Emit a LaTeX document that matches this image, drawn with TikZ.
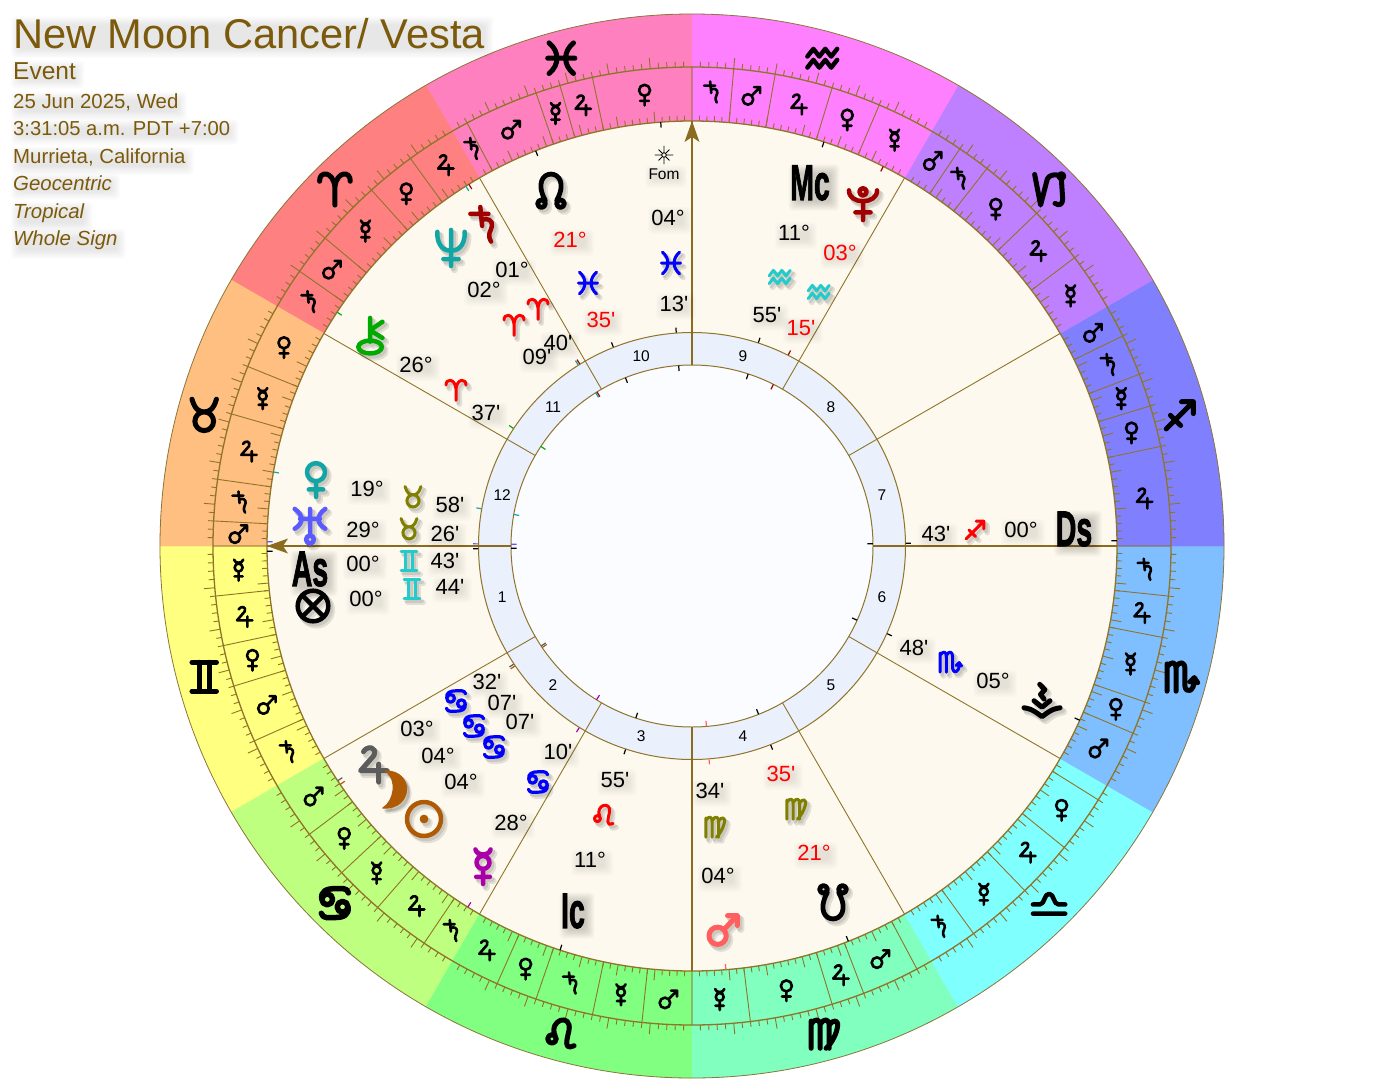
\documentclass[tikz,border=0pt]{standalone}
\usepackage{fontspec}
\usepackage{graphicx}
\newfontfamily\lib{Liberation Sans}
\newfontfamily\libb{Liberation Sans}[BoldFeatures={FakeBold=2.2}]
\pgfdeclarelayer{base}\pgfdeclarelayer{shad}\pgfsetlayers{base,shad,main}
\definecolor{lineb}{HTML}{8F7429}
\definecolor{axisb}{HTML}{8B6B1E}
\definecolor{titleb}{HTML}{7C5A0B}
\definecolor{cream}{HTML}{FDF9EE}
\definecolor{hring}{HTML}{EAF1FD}
\definecolor{core}{HTML}{FBFCFF}
\definecolor{cteal}{HTML}{12A5A5}
\definecolor{caqua}{HTML}{22CCCC}
\definecolor{cviol}{HTML}{5A5AFF}
\definecolor{cgray}{HTML}{5C5C5C}
\definecolor{cbrown}{HTML}{AF5A05}
\definecolor{cmag}{HTML}{AA00AA}
\definecolor{ccoral}{HTML}{FF5F5F}
\definecolor{cdred}{HTML}{A00000}
\definecolor{cgreen}{HTML}{00AA00}
\definecolor{colive}{HTML}{808000}
\definecolor{cblue}{HTML}{0000FF}
\definecolor{cred}{HTML}{FF0000}
\definecolor{zGe}{HTML}{FFFF80}
\definecolor{zCn}{HTML}{BFFF80}
\definecolor{zLe}{HTML}{80FF80}
\definecolor{zVi}{HTML}{80FFBF}
\definecolor{zLi}{HTML}{80FFFF}
\definecolor{zSc}{HTML}{80BFFF}
\definecolor{zSg}{HTML}{8080FF}
\definecolor{zCp}{HTML}{BF80FF}
\definecolor{zAq}{HTML}{FF80FF}
\definecolor{zPi}{HTML}{FF80BF}
\definecolor{zAr}{HTML}{FF8080}
\definecolor{zTa}{HTML}{FFBF80}
% planet paths
\def\glNo{(0,0)}
\def\glSa{(-.15,1)--(-.05,-.05) (-.7,.62)--(.3,.62) (-.08,.25) .. controls (.25,.45) and (.55,.25) .. (.5,-.05) .. controls (.45,-.35) and (.2,-.5) .. (.45,-.92)}
\def\glJu{(-.45,.7) .. controls (-.25,1.05) and (.3,.95) .. (.1,.5) -- (-.6,-.3) -- (.8,-.3) (.35,.05)--(.35,-.9)}
\def\glVe{(0,.38) circle (.5) (0,-.12)--(0,-1) (-.4,-.58)--(.4,-.58)}
\def\glMa{(-.3,-.32) circle (.48) (.05,.03)--(.8,.8) (.25,.8)--(.8,.8)--(.8,.25)}
\def\glMe{(0,.2) circle (.36) (-.42,.92) .. controls (-.35,.55) and (.35,.55) .. (.42,.92) (0,-.16)--(0,-1) (-.38,-.6)--(.38,-.6)}
\def\glUr{(-.85,.95) .. controls (-.35,.6) and (-.35,.15) .. (-.85,-.15) (.85,.95) .. controls (.35,.6) and (.35,.15) .. (.85,-.15) (0,.95)--(0,-.5) (-.55,.4)--(.55,.4) (0,-.75) circle (.22)}
\def\glNe{(-.72,.85) .. controls (-.75,.05) and (-.3,-.15) .. (0,-.15) .. controls (.3,-.15) and (.75,.05) .. (.72,.85) (0,.95)--(0,-.95) (-.4,-.58)--(.4,-.58)}
\def\glPl{(-.78,.7) .. controls (-.8,-.1) and (.8,-.1) .. (.78,.7) (0,.62) circle (.2) (0,.1)--(0,-.95) (-.42,-.52)--(.42,-.52)}
\def\glCh{(-.1,.95)--(-.1,-.3) (-.1,.3)--(.55,.75) (-.1,.3)--(.55,-.1) (-.1,-.58) ellipse (.62 and .34)}
\def\glSu{(0,0) circle (.85) (0,0) circle (.1)}
\def\glMo{(-.55,1) .. controls (.95,1.05) and (.95,-1.05) .. (-.7,-.95) .. controls (-.1,-.6) and (.1,.55) .. cycle}
\def\glNN{(-.3,-.55) .. controls (-1.3,1.3) and (1.3,1.3) .. (.3,-.55) (-.5,-.72) circle (.2) (.5,-.72) circle (.2)}
\def\glSN{(-.3,.55) .. controls (-1.3,-1.3) and (1.3,-1.3) .. (.3,.55) (-.5,.72) circle (.2) (.5,.72) circle (.2)}
\def\glPF{(0,0) circle (.85) (-.55,.55)--(.55,-.55) (-.55,-.55)--(.55,.55)}
\def\glVs{(-.12,.98) -- (.15,.7) -- (-.08,.45) -- (.1,.22) (-.42,.12)--(0,-.22)--(.42,.12) (-.95,-.25) .. controls (-.75,-.3) and (-.6,-.25) .. (0,-.72) .. controls (.6,-.25) and (.75,-.3) .. (.95,-.25)}
\def\glSt{(0,-.3)--(0,-1) (0,.3)--(0,1) (-.3,0)--(-1,0) (.3,0)--(1,0) (-.25,.25)--(-.6,.6) (.25,.25)--(.6,.6) (-.25,-.25)--(-.6,-.6) (.25,-.25)--(.6,-.6) (0,0) circle (.25)}
% sign paths
\def\glAr{(-.9,.45) .. controls (-.95,1.05) and (-.1,1.1) .. (0,.1) -- (0,-.95) (.9,.45) .. controls (.95,1.05) and (.1,1.1) .. (0,.1)}
\def\glTa{(0,-.35) circle (.55) (-.72,.95) .. controls (-.55,.35) and (-.3,.2) .. (0,.2) .. controls (.3,.2) and (.55,.35) .. (.72,.95)}
\def\glGe{(-.72,.85)--(.72,.85) (-.72,-.85)--(.72,-.85) (-.3,.85)--(-.3,-.85) (.3,.85)--(.3,-.85)}
\def\glCn{(-.45,.22) circle (.32) (-.77,.22) .. controls (-.85,.7) and (-.5,.85) .. (0,.85) -- (.5,.85) .. controls (.65,.85) and (.75,.75) .. (.8,.6) (.45,-.22) circle (.32) (.77,-.22) .. controls (.85,-.7) and (.5,-.85) .. (0,-.85) -- (-.5,-.85) .. controls (-.65,-.85) and (-.75,-.75) .. (-.8,-.6)}
\def\glLe{(-.55,-.3) circle (.25) (-.35,-.15) .. controls (-.8,.85) and (.65,1.25) .. (.45,.2) .. controls (.35,-.3) and (.1,-1) .. (.75,-.7)}
\def\glVi{(-.68,.75)--(-.68,-.85) (-.68,.55) .. controls (-.45,.95) and (-.15,.9) .. (-.15,.45) -- (-.15,-.85) (-.15,.55) .. controls (.1,.95) and (.38,.9) .. (.38,.45) -- (.38,-.85) (.38,.5) .. controls (.6,.85) and (1,.9) .. (.85,.3) .. controls (.75,-.15) and (.45,-.65) .. (.2,-.85)}
\def\glLi{(-.95,-.62)--(.95,-.62) (-.95,-.08)--(-.55,-.08) .. controls (-.25,-.08) and (-.3,.55) .. (0,.55) .. controls (.3,.55) and (.25,-.08) .. (.55,-.08) -- (.95,-.08)}
\def\glSc{(-.75,.75)--(-.75,-.85) (-.75,.55) .. controls (-.5,.95) and (-.22,.9) .. (-.22,.45) -- (-.22,-.85) (-.22,.55) .. controls (0,.95) and (.3,.9) .. (.3,.45) -- (.3,-.55) .. controls (.35,-1) and (.85,-.9) .. (.85,-.2) (.6,-.3)--(.85,-.05)--(1.05,-.35)}
\def\glSg{(-.8,-.8)--(.8,.8) (.1,.8)--(.8,.8)--(.8,.1) (-.55,.0)--(.05,-.6)}
\def\glCp{(-.85,.85)--(-.5,-.95)--(-.1,.6) .. controls (0,.8) and (.35,.9) .. (.58,.78) (.72,.75) circle (.14) (.72,.6) -- (.8,-.6) .. controls (.8,-.95) and (.55,-1) .. (.35,-.85)}
\def\glAq{(-.9,.1)--(-.55,.55)--(-.2,.1)--(.15,.55)--(.5,.1)--(.85,.55) (-.9,-.55)--(-.55,-.1)--(-.2,-.55)--(.15,-.1)--(.5,-.55)--(.85,-.1)}
\def\glPi{(-.72,.9) .. controls (-.1,.4) and (-.1,-.4) .. (-.72,-.9) (.72,.9) .. controls (.1,.4) and (.1,-.4) .. (.72,-.9) (-.8,0)--(.8,0)}
\newcounter{lab}
% glyph without shadow: [extra]{pos}{size}{lw}{colour}{path}
\newcommand\gly[6][]{\begin{scope}[shift={#2},x=#3pt,y=#3pt]\draw[color=#5,line width=#4pt,line cap=round,line join=round,#1] #6;\end{scope}}
\newcommand\glys[6][]{%
\begin{scope}[shift={#2},xshift=2pt,yshift=-2.5pt,x=#3pt,y=#3pt]\draw[color=black,opacity=.1,line width=#4pt+1pt,line cap=round,line join=round,#1] #6;\end{scope}%
\begin{scope}[shift={#2},xshift=3.5pt,yshift=-4pt,x=#3pt,y=#3pt]\draw[color=black,opacity=.1,line width=#4pt+2pt,line cap=round,line join=round,#1] #6;\end{scope}%
\gly[#1]{#2}{#3}{#4}{#5}{#6}}
% soft shadow behind a placed node: {node}{dx}{dy}{opacity}
\newcommand\blob[4]{\begin{pgfonlayer}{shad}\foreach \gr in {-3,-1.8,-.6,.6,1.8,3,4.2,5.4}{%
\fill[black,opacity=#4,rounded corners=4pt] ([xshift=#2pt-\gr pt,yshift=-#3pt-\gr pt]#1.south west) rectangle ([xshift=#2pt+\gr pt,yshift=-#3pt+\gr pt]#1.north east);}\end{pgfonlayer}}
% text: {x}{y}{size}{colour}{text}
\newcommand\tx[5]{\stepcounter{lab}%
\node[inner sep=0,text=#4] (t\arabic{lab}) at (#1,-#2) {\lib\fontsize{#3}{#3}\selectfont #5};\blob{t\arabic{lab}}{2}{2.5}{.011}}
% header line: {y}{size}{text}
\newcommand\hd[3]{\stepcounter{lab}%
\node[inner sep=0,anchor=base west,text=titleb] (t\arabic{lab}) at (13,-#1) {\lib\fontsize{#2}{#2}\selectfont #3};\blob{t\arabic{lab}}{3}{4}{.011}}
% bold angle labels
\newcommand\angl[3]{\stepcounter{lab}%
\node[inner sep=0,text=black] (t\arabic{lab}) at (#1,-#2) {\scalebox{.57}[1]{\libb\bfseries\fontsize{50}{50}\selectfont #3}};\blob{t\arabic{lab}}{4}{4.5}{.022}}
% sign wedge
\newcommand\wedgeband[2]{\fill[#2,draw=#2,line width=.3pt] (0,0) -- (#1:532) arc (#1:#1+30:532) -- cycle;}
% terms in one sign
\newcommand\terms[2]{\xdef\cur{#1}\foreach \tlen/\tp in {#2}{%
\pgfmathsetmacro\midd{\cur+\tlen/2}\pgfmathsetmacro\nxt{\cur+\tlen}%
\ifdim\cur pt=#1pt\else\draw[lineb,line width=.9pt] (\cur:425)--(\cur:479);\fi
\gly{(\midd:454)}{11}{2.6}{black}{\tp}%
\xdef\cur{\nxt}}}
% position ticks
\newcommand\ptick[2]{\draw[#2,line width=1.2pt] (#1:419.5)--(#1:425) (#1:214)--(#1:219) (#1:175.5)--(#1:181);}
\begin{document}
\begin{tikzpicture}[x=1pt,y=1pt]
\useasboundingbox (0,0) rectangle (1384,-1092);
\begin{pgfonlayer}{base}
\fill[white] (0,0) rectangle (1384,-1092);
\begin{scope}[shift={(692,-546)}]
\wedgeband{180}{zGe}\wedgeband{210}{zCn}\wedgeband{240}{zLe}\wedgeband{270}{zVi}
\wedgeband{300}{zLi}\wedgeband{330}{zSc}\wedgeband{0}{zSg}\wedgeband{30}{zCp}
\wedgeband{60}{zAq}\wedgeband{90}{zPi}\wedgeband{120}{zAr}\wedgeband{150}{zTa}
\draw[lineb!80!gray,line width=.8pt] (0,0) circle (532);
\fill[cream] (0,0) circle (425);
% degree ticks (none on the sign boundaries)
\foreach \i in {0,...,359}{\pgfmathsetmacro\tk{mod(\i,30)==0?0:(mod(\i,5)==0?11:5.5)}
\draw[lineb,line width=.9pt] (\i:425)--(\i:425+\tk) (\i:479)--(\i:479+\tk);}
\draw[lineb,line width=1.3pt] (0,0) circle (479);
\draw[lineb,line width=1.3pt] (0,0) circle (425);
% sign boundaries on the axes inside the term ring
\draw[axisb,opacity=.45,line width=1.6pt] (0:425)--(0:479) (90:425)--(90:479) (180:425)--(180:479) (270:425)--(270:479);
% terms
\terms{120}{6/\glJu,6/\glVe,8/\glMe,5/\glMa,5/\glSa}
\terms{150}{8/\glVe,6/\glMe,8/\glJu,5/\glSa,3/\glMa}
\terms{180}{6/\glMe,6/\glJu,5/\glVe,7/\glMa,6/\glSa}
\terms{210}{7/\glMa,6/\glVe,6/\glMe,7/\glJu,4/\glSa}
\terms{240}{6/\glJu,5/\glVe,7/\glSa,6/\glMe,6/\glMa}
\terms{270}{7/\glMe,10/\glVe,4/\glJu,7/\glMa,2/\glNo}
\terms{300}{6/\glSa,8/\glMe,7/\glJu,7/\glVe,2/\glNo}
\terms{330}{7/\glMa,4/\glVe,8/\glMe,5/\glJu,6/\glSa}
\terms{0}{12/\glJu,5/\glVe,4/\glMe,5/\glSa,4/\glMa}
\terms{30}{7/\glMe,7/\glJu,8/\glVe,4/\glSa,4/\glMa}
\terms{60}{7/\glMe,6/\glVe,7/\glJu,5/\glMa,5/\glSa}
\terms{90}{12/\glVe,4/\glJu,3/\glMe,9/\glMa,2/\glSa}
% zodiac signs
\gly{(195:505)}{17}{5}{black}{\glGe}
\gly{(225:505)}{17}{5.5}{black}{\glCn}
\gly{(255:505)}{17}{5}{black}{\glLe}
\gly{(285:505)}{17}{5}{black}{\glVi}
\gly{(315:505)}{17}{4.5}{black}{\glLi}
\gly{(345:505)}{17}{5}{black}{\glSc}
\gly{(15:505)}{17}{5}{black}{\glSg}
\gly{(45:505)}{17}{5}{black}{\glCp}
\gly{(75:505)}{17}{4.5}{black}{\glAq}
\gly{(105:505)}{17}{5}{black}{\glPi}
\gly{(135:505)}{17}{5}{black}{\glAr}
\gly{(165:505)}{17}{5}{black}{\glTa}
% house ring
\fill[hring] (0,0) circle (213.5);
\foreach \a in {30,60,120,150,210,240,300,330}{\draw[lineb,line width=.9pt] (\a:181)--(\a:425);}
\draw[lineb,line width=1pt] (0,0) circle (213.5);
\fill[core] (0,0) circle (181);
\draw[lineb,line width=1pt] (0,0) circle (181);
\ptick{94.22}{black}
\ptick{111.58}{black}
\ptick{121.67}{cdred}
\ptick{122.15}{cteal}
\ptick{146.62}{cgreen}
\ptick{169.97}{cteal}
\ptick{179.43}{cviol}
\ptick{180.72}{black}
\ptick{213.53}{cgray}
\ptick{214.12}{cbrown}
\ptick{238.17}{cmag}
\ptick{251.92}{black}
\ptick{274.57}{ccoral}
\ptick{291.58}{black}
\ptick{335.8}{black}
\ptick{0.72}{black}
\ptick{71.92}{black}
\ptick{63.25}{cdred}
% axes
\coordinate (asIn) at (180:181);\coordinate (asOut) at (180:425);
\coordinate (dsIn) at (0:181);\coordinate (dsOut) at (0:425);
\coordinate (mcIn) at (90:181);\coordinate (mcOut) at (90:425);
\coordinate (icIn) at (270:181);\coordinate (icOut) at (270:425);
\draw[axisb,line width=2.4pt] (asIn)--(asOut) (dsIn)--(dsOut) (mcIn)--(mcOut) (icIn)--(icOut);
\fill[axisb] (asOut) -- ++(21,7.5) -- ++(-5,-7.5) -- ++(5,-7.5) -- cycle;
\fill[axisb] (mcOut) -- ++(-7.5,-21) -- ++(7.5,5) -- ++(7.5,-5) -- cycle;
\end{scope}
\end{pgfonlayer}
% house numbers
\begin{scope}[shift={(692,-546)}]
\foreach \n [evaluate=\n as \ha using 195+30*(\n-1)] in {1,...,12}{
\node[inner sep=0,text=black] (h\n) at (\ha:196.5) {\lib\fontsize{15.5}{15.5}\selectfont \n};}
\end{scope}
% header
\hd{48}{41.6}{New Moon Cancer/ Vesta}
\hd{79}{24.5}{Event}
\hd{108}{20.4}{25 Jun 2025, Wed}
\hd{135}{20.2}{3:31:05 a.m. PDT +7:00}
\hd{163}{20.4}{Murrieta, California}
\hd{190}{20.4}{\itshape Geocentric}
\hd{218}{20.4}{\itshape Tropical}
\hd{245}{20.4}{\itshape Whole Sign}
% Fomalhaut
\gly{(664,-155)}{9}{.9}{black}{\glSt}
\tx{664}{174}{15.5}{black}{Fom}
\tx{668}{218}{22}{black}{04°}
\glys{(671,-263)}{12}{3}{cblue}{\glPi}
\tx{674}{304}{22}{black}{13'}
% north node
\glys{(551,-190)}{19}{4.8}{black}{\glNN}
\tx{570}{240}{22}{cred}{21°}
\glys{(588,-283)}{12}{3}{cblue}{\glPi}
\tx{601}{320}{22}{cred}{35'}
% Saturn, Neptune
\glys{(483,-225)}{18}{4.5}{cdred}{\glSa}
\glys{(451,-248)}{19}{4.5}{cteal}{\glNe}
\tx{512}{270}{22}{black}{01°}
\tx{484}{290}{22}{black}{02°}
\glys{(538,-309)}{11}{3}{cred}{\glAr}
\glys{(514,-325)}{11}{3}{cred}{\glAr}
\tx{558}{343}{22}{black}{40'}
\tx{537}{357}{22}{black}{09'}
% Chiron
\glys{(372,-336)}{19}{4.5}{cgreen}{\glCh}
\tx{416}{365}{22}{black}{26°}
\glys{(456,-390)}{11}{3}{cred}{\glAr}
\tx{486}{413}{22}{black}{37'}
% Mc, Pluto
\angl{810}{183}{Mc}
\glys{(863,-203)}{18}{4.5}{cdred}{\glPl}
\tx{794}{233}{22}{black}{11°}
\tx{840}{253}{22}{cred}{03°}
\glys{(780,-277)}{12}{3}{caqua}{\glAq}
\glys{(819,-292)}{12}{3}{caqua}{\glAq}
\tx{767}{315}{22}{black}{55'}
\tx{801}{328}{22}{cred}{15'}
% left stack
\glys{(316,-479)}{18}{4.5}{cteal}{\glVe}
\tx{367}{489}{22}{black}{19°}
\glys{(413,-497)}{11}{3}{colive}{\glTa}
\tx{450}{505}{22}{black}{58'}
\glys{(310,-526)}{18}{4.5}{cviol}{\glUr}
\tx{363}{530}{22}{black}{29°}
\glys{(409,-529)}{11}{3}{colive}{\glTa}
\tx{445}{534}{22}{black}{26'}
\angl{310}{569}{As}
\tx{363}{564}{22}{black}{00°}
\glys{(409,-561)}{11}{3}{caqua}{\glGe}
\tx{445}{561}{22}{black}{43'}
\glys{(313,-606)}{18}{4.5}{black}{\glPF}
\tx{366}{599}{22}{black}{00°}
\glys{(412,-589)}{11}{3}{caqua}{\glGe}
\tx{450}{587}{22}{black}{44'}
% Ds
\angl{1074}{529}{Ds}
\tx{1021}{530}{22}{black}{00°}
\glys{(975,-530)}{11}{3}{cred}{\glSg}
\tx{936}{534}{22}{black}{43'}
% Vesta
\glys{(1042,-703)}{19}{5}{black}{\glVs}
\tx{993}{681}{22}{black}{05°}
\glys{(949,-662)}{12}{3}{cblue}{\glSc}
\tx{914}{648}{22}{black}{48'}
% Cancer stack
\glys{(372,-765)}{19}{5}{cgray}{\glJu}
\tx{417}{729}{22}{black}{03°}
\glys{(456,-701)}{12}{3.2}{cblue}{\glCn}
\tx{487}{682}{22}{black}{32'}
\glys[fill]{(396,-790)}{19}{1}{cbrown}{\glMo}
\tx{438}{756}{22}{black}{04°}
\glys{(474,-726)}{12}{3.2}{cblue}{\glCn}
\tx{502}{703}{22}{black}{07'}
\glys{(424,-819)}{20}{4.5}{cbrown}{\glSu}
\tx{461}{782}{22}{black}{04°}
\glys{(494,-747)}{12}{3.2}{cblue}{\glCn}
\tx{520}{722}{22}{black}{07'}
\glys{(483,-866)}{18}{4.5}{cmag}{\glMe}
\tx{511}{823}{22}{black}{28°}
\glys{(538,-782)}{12}{3.2}{cblue}{\glCn}
\tx{558}{752}{22}{black}{10'}
% Ic
\angl{573}{911}{Ic}
\tx{590}{860}{22}{black}{11°}
\glys{(604,-815)}{12}{3}{cred}{\glLe}
\tx{615}{780}{22}{black}{55'}
% Mars
\glys{(723,-930)}{18}{5}{ccoral}{\glMa}
\tx{718}{876}{22}{black}{04°}
\glys{(714,-827)}{12}{3}{colive}{\glVi}
\tx{710}{791}{22}{black}{34'}
% South node
\glys{(833,-903)}{19}{4.8}{black}{\glSN}
\tx{814}{853}{22}{cred}{21°}
\glys{(795,-809)}{12}{3}{colive}{\glVi}
\tx{781}{774}{22}{cred}{35'}
\end{tikzpicture}
\end{document}
